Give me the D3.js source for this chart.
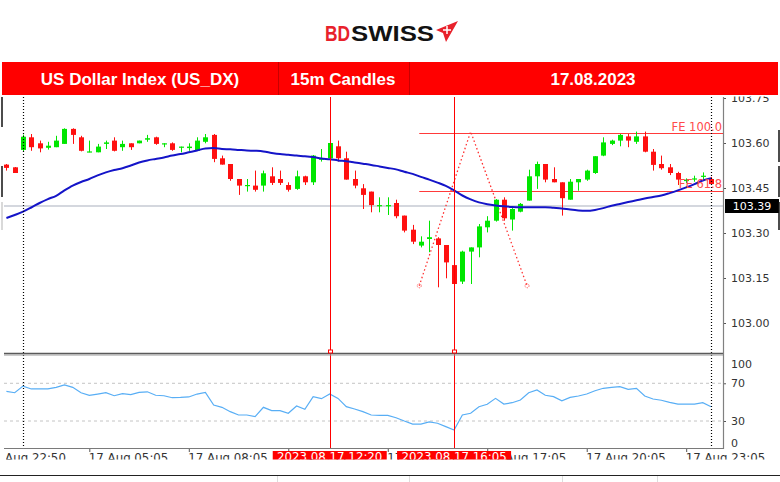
<!DOCTYPE html>
<html><head><meta charset="utf-8">
<script src="https://cdn.jsdelivr.net/npm/d3@7"></script>
<style>
body{margin:0;background:#fff;}
svg{display:block;font-family:"DejaVu Sans",sans-serif;}
</style>
</head><body>
<svg id="c" width="780" height="482"></svg>
<script>
// ---------- DATA ----------
const startIndex = -2; // bar index of the first candle (bar 0 = 17 Aug 03:05)
const candleOpen = [103.528,103.519,103.577,103.619,103.599,103.584,103.586,103.597,103.647,103.619,103.569,103.569,103.597,103.608,103.586,103.599,103.599,103.611,103.619,103.596,103.599,103.584,103.583,103.574,103.604,103.627,103.549,103.530,103.480,103.456,103.458,103.458,103.489,103.480,103.460,103.447,103.489,103.469,103.544,103.549,103.589,103.549,103.480,103.449,103.438,103.389,103.389,103.400,103.358,103.311,103.258,103.280,103.282,103.260,103.193,103.138,103.238,103.252,103.319,103.341,103.411,103.345,103.371,103.408,103.489,103.530,103.480,103.469,103.411,103.469,103.478,103.500,103.558,103.597,103.608,103.622,103.604,103.622,103.571,103.530,103.519,103.500,103.473,103.478,103.487,103.480];
const candleHigh = [103.530,103.520,103.628,103.630,103.608,103.604,103.624,103.649,103.649,103.624,103.608,103.597,103.608,103.619,103.608,103.599,103.608,103.627,103.621,103.599,103.602,103.588,103.599,103.619,103.630,103.630,103.558,103.530,103.480,103.480,103.508,103.508,103.519,103.508,103.469,103.508,103.491,103.560,103.580,103.600,103.608,103.571,103.508,103.463,103.438,103.419,103.419,103.411,103.358,103.327,103.289,103.341,103.286,103.260,103.193,103.241,103.252,103.330,103.356,103.413,103.419,103.383,103.400,103.511,103.538,103.530,103.519,103.469,103.480,103.480,103.511,103.556,103.619,103.611,103.630,103.630,103.638,103.638,103.580,103.558,103.530,103.504,103.482,103.491,103.502,103.487];
const candleLow = [103.508,103.500,103.572,103.574,103.569,103.578,103.586,103.597,103.597,103.572,103.569,103.569,103.580,103.572,103.574,103.577,103.599,103.604,103.594,103.586,103.574,103.569,103.574,103.574,103.599,103.536,103.528,103.474,103.427,103.438,103.438,103.438,103.460,103.460,103.438,103.444,103.460,103.460,103.538,103.547,103.538,103.478,103.449,103.380,103.369,103.369,103.360,103.349,103.302,103.263,103.252,103.236,103.119,103.149,103.124,103.130,103.130,103.219,103.302,103.338,103.341,103.308,103.369,103.408,103.447,103.469,103.469,103.358,103.411,103.441,103.474,103.497,103.556,103.593,103.589,103.586,103.597,103.569,103.508,103.511,103.493,103.460,103.467,103.471,103.478,103.463];
const candleClose = [103.517,103.500,103.621,103.586,103.582,103.591,103.608,103.647,103.627,103.574,103.572,103.588,103.602,103.574,103.597,103.586,103.608,103.616,103.597,103.599,103.577,103.588,103.588,103.608,103.619,103.547,103.528,103.480,103.458,103.460,103.444,103.499,103.467,103.467,103.444,103.489,103.469,103.558,103.549,103.600,103.549,103.478,103.458,103.427,103.393,103.393,103.393,103.356,103.308,103.271,103.271,103.286,103.260,103.202,103.130,103.238,103.252,103.322,103.341,103.411,103.349,103.380,103.397,103.489,103.530,103.478,103.469,103.416,103.471,103.480,103.508,103.556,103.602,103.608,103.627,103.608,103.622,103.571,103.527,103.516,103.500,103.478,103.478,103.482,103.491,103.463];
const maValues = [103.350,103.360,103.371,103.385,103.400,103.413,103.424,103.442,103.458,103.470,103.480,103.492,103.502,103.510,103.516,103.525,103.535,103.542,103.547,103.552,103.558,103.563,103.569,103.575,103.582,103.583,103.580,103.579,103.577,103.575,103.574,103.572,103.567,103.563,103.561,103.558,103.556,103.553,103.548,103.546,103.542,103.539,103.535,103.531,103.527,103.522,103.517,103.512,103.504,103.497,103.487,103.478,103.468,103.457,103.442,103.425,103.412,103.402,103.396,103.392,103.389,103.387,103.386,103.386,103.386,103.386,103.384,103.382,103.378,103.375,103.374,103.377,103.383,103.391,103.397,103.403,103.409,103.415,103.420,103.425,103.433,103.442,103.452,103.463,103.475,103.483];
const rsiValues = [61.5,60,67,64,64,64,65.7,68.2,65.7,60,57.3,58.6,60,56.8,59,57.9,60.4,61,57.3,56.8,54.7,55,55.5,58.6,60.4,47,44.5,39.9,36.4,36.4,34.6,44.5,41,41,38.2,45.9,42.4,55.8,53.7,58.6,54,45.2,42.7,39.9,36.4,36,36,33.5,30,26.8,26.8,29,27.6,24,20.5,36.4,38.2,45.2,47.7,54,48,49.4,52.3,60,62.9,57.3,55.8,51.5,55.1,56.5,58.6,62.1,64.7,65.7,66.4,63.6,64.7,56.5,53.3,52,49.8,48,48,48,49.4,45.2];

const priceTicks = [103.00,103.15,103.30,103.45,103.60,103.75];
const rsiTicks = [0,30,70,100];
const rsiLevels = [30,70];
const timeTickIndex = [-4,8,20,32,44,56,68,80];
const timeTickLabels = ["16 Aug 22:50","17 Aug 05:05","17 Aug 08:05","17 Aug 11:05","17 Aug 14:05","17 Aug 17:05","17 Aug 20:05","17 Aug 23:05"];
const markerIndex = [37,52];
const markerLabels = ["2023.08.17 12:20","2023.08.17 16:05"];
const separatorIndex = [0,83];
const currentPrice = 103.39;
const feLabels = ["FE 100.0","FE 61.8"];
const feLevels = [103.633,103.441];
const fePointIndex = [47.8,54.0,60.8];
const fePointPrice = [103.124,103.638,103.124];
const titleTexts = ["US Dollar Index (US_DX)","15m Candles","17.08.2023"];

// ---------- LAYOUT ----------
const svg = d3.select("#c");
const plotL = 4, plotR = 723, mainTop = 97, mainBot = 353, rsiTop = 355, rsiBot = 448;
const x = d3.scaleLinear().domain([0,80]).range([23,686.2]);
const y = d3.scaleLinear().domain([103.00,103.75]).range([323,98]);
const yR = d3.scaleLinear().domain([0,100]).range([449.3,355]);
const RED = "#ff0000", GREEN = "#00e600", CRED = "#ff1010";

const defs = svg.append("defs");
defs.append("clipPath").attr("id","mainClip").append("rect").attr("x",plotL).attr("y",mainTop).attr("width",plotR-plotL).attr("height",mainBot-mainTop);
defs.append("clipPath").attr("id","rsiClip").append("rect").attr("x",plotL).attr("y",rsiTop).attr("width",plotR-plotL).attr("height",rsiBot-rsiTop);
defs.append("clipPath").attr("id","botClip").append("rect").attr("x",6).attr("y",449).attr("width",774).attr("height",10.5);
defs.append("clipPath").attr("id","rightClip").append("rect").attr("x",724).attr("y",96.5).attr("width",56).attr("height",360);

svg.append("rect").attr("width",780).attr("height",482).attr("fill","#fff");

const candles = candleOpen.map((o,k)=>({i:startIndex+k,o,h:candleHigh[k],l:candleLow[k],c:candleClose[k],ma:maValues[k],rsi:rsiValues[k]}));

// ---------- MAIN PANEL ----------
const main = svg.append("g").attr("clip-path","url(#mainClip)");
main.append("line").attr("x1",plotL).attr("x2",plotR).attr("y1",y(currentPrice)).attr("y2",y(currentPrice))
  .attr("stroke","#a9b0bd").attr("stroke-width",1.2);
feLevels.forEach(v=>{
  main.append("line").attr("x1",x(fePointIndex[0])).attr("x2",plotR).attr("y1",Math.round(y(v))+0.5).attr("y2",Math.round(y(v))+0.5)
    .attr("stroke","#ff3a3a").attr("stroke-width",1);
});
const fePts = fePointIndex.map((d,k)=>[x(d),y(fePointPrice[k])]);
main.append("path").attr("d",d3.line()(fePts)).attr("fill","none").attr("stroke","#ff3030")
  .attr("stroke-width",1.3).attr("stroke-dasharray","1.5,2.5");
main.selectAll(".fep").data([fePts[0],fePts[2]]).join("circle").attr("cx",d=>d[0]).attr("cy",d=>d[1]).attr("r",2)
  .attr("fill","none").attr("stroke","#ff5050").attr("stroke-width",1).attr("stroke-dasharray","1,1");

// wicks & bodies
const cg = main.append("g");
cg.selectAll(".wick").data(candles).join("line")
  .attr("x1",d=>Math.round(x(d.i))+0.5).attr("x2",d=>Math.round(x(d.i))+0.5)
  .attr("y1",d=>y(d.h)).attr("y2",d=>y(d.l))
  .attr("stroke",d=>d.c>=d.o?GREEN:CRED).attr("stroke-width",1);
cg.selectAll(".body").data(candles).join("rect")
  .attr("x",d=>Math.round(x(d.i))-2).attr("width",5)
  .attr("y",d=>Math.min(y(d.o),y(d.c)))
  .attr("height",d=>Math.max(1.2,Math.abs(y(d.o)-y(d.c))))
  .attr("fill",d=>d.c>=d.o?GREEN:CRED);
main.append("path").datum(candles).attr("fill","none").attr("stroke","#1414c8").attr("stroke-width",2)
  .attr("d",d3.line().x(d=>x(d.i)).y(d=>y(d.ma)).curve(d3.curveMonotoneX));

// FE labels
feLevels.forEach((v,k)=>{
  svg.append("text").attr("x",722).attr("y",y(v)-2.5).attr("text-anchor","end").attr("font-size",11.5)
    .attr("fill","#ff4a4a").text(feLabels[k]);
});

// ---------- RSI PANEL ----------
const rsi = svg.append("g").attr("clip-path","url(#rsiClip)");
rsiLevels.forEach(v=>{
  rsi.append("line").attr("x1",plotL).attr("x2",plotR).attr("y1",yR(v)).attr("y2",yR(v))
    .attr("stroke","#c4c4c4").attr("stroke-width",1).attr("stroke-dasharray","3,3");
});
rsi.append("path").datum(candles).attr("fill","none").attr("stroke","#58aef5").attr("stroke-width",1.2)
  .attr("d",d3.line().x(d=>x(d.i)).y(d=>yR(d.rsi)));

// vertical marker lines
markerIndex.forEach(i=>{
  const xx = Math.round(x(i))+0.5;
  svg.append("line").attr("x1",xx).attr("x2",xx).attr("y1",mainTop).attr("y2",rsiBot).attr("stroke",RED).attr("stroke-width",1);
});
separatorIndex.forEach(i=>{
  const xx = Math.round(x(i))+0.5;
  svg.append("line").attr("x1",xx).attr("x2",xx).attr("y1",mainTop).attr("y2",rsiBot).attr("stroke","#000")
    .attr("stroke-width",1.2).attr("stroke-dasharray","1,2");
});

// panel separator
svg.append("line").attr("x1",plotL).attr("x2",plotR).attr("y1",353.5).attr("y2",353.5).attr("stroke","#5a5a5a").attr("stroke-width",1.5);
svg.append("line").attr("x1",plotL).attr("x2",plotR).attr("y1",355).attr("y2",355).attr("stroke","#9a9a9a").attr("stroke-width",1);
markerIndex.forEach(i=>{
  svg.append("rect").attr("x",Math.round(x(i))-1.5).attr("y",350).attr("width",4).attr("height",3)
    .attr("fill","#fff").attr("stroke",RED).attr("stroke-width",1);
});

// ---------- AXES ----------
const axisColor = "#333";
const pAxisWrap = svg.append("g").attr("clip-path","url(#rightClip)");
const pAxis = pAxisWrap.append("g").attr("transform",`translate(${plotR},0)`)
  .call(d3.axisRight(y).tickValues(priceTicks).tickFormat(d3.format(".2f")).tickSize(3).tickPadding(5));
pAxis.select(".domain").remove();
pAxis.selectAll("text").attr("font-family","DejaVu Sans").attr("font-size",11).attr("fill",axisColor);
pAxis.selectAll("line").attr("stroke","#555");

const rAxis = svg.append("g").attr("transform",`translate(${plotR},0)`)
  .call(d3.axisRight(yR).tickValues(rsiTicks).tickSize(3).tickPadding(5));
rAxis.select(".domain").remove();
rAxis.selectAll("text").attr("font-family","DejaVu Sans").attr("font-size",11).attr("fill",axisColor);
rAxis.selectAll("line").attr("stroke","#555");
rAxis.selectAll(".tick").filter(d=>d===100||d===0).select("line").remove();
rAxis.selectAll(".tick").filter(d=>d===100).select("text").attr("dy","1.1em");
rAxis.selectAll(".tick").filter(d=>d===0).select("text").attr("dy","-0.3em");

svg.append("line").attr("x1",plotR+0.5).attr("x2",plotR+0.5).attr("y1",mainTop).attr("y2",rsiBot+1).attr("stroke","#808080").attr("stroke-width",1.2);

// current price box
svg.append("rect").attr("x",725).attr("y",y(currentPrice)-7).attr("width",54).attr("height",14).attr("fill","#000");
svg.append("text").attr("x",752).attr("y",y(currentPrice)+4).attr("text-anchor","middle").attr("font-size",11)
  .attr("fill","#fff").text(d3.format(".2f")(currentPrice));

// bottom time axis
svg.append("line").attr("x1",plotL).attr("x2",plotR+1).attr("y1",448.5).attr("y2",448.5).attr("stroke","#7a7a7a").attr("stroke-width",1.2);
const tWrap = svg.append("g").attr("clip-path","url(#botClip)");
const tAxis = tWrap.append("g").attr("transform","translate(0,448)")
  .call(d3.axisBottom(x).tickValues(timeTickIndex).tickFormat((d,k)=>timeTickLabels[k]).tickSize(4).tickPadding(1));
tAxis.select(".domain").remove();
tAxis.selectAll("line").attr("stroke","#555");
tAxis.selectAll("text").attr("text-anchor","start").attr("dx",(d,k)=>k===0?"-4":"-1").attr("font-family","DejaVu Sans")
  .attr("font-size",11.8).attr("fill",axisColor).attr("dy","0.74em");
markerIndex.forEach((i,k)=>{
  const cx = x(i);
  tWrap.append("rect").attr("x",cx-57).attr("y",451).attr("width",114).attr("height",12).attr("fill",RED);
  tWrap.append("text").attr("x",cx).attr("y",461).attr("text-anchor","middle").attr("font-size",11.8)
    .attr("fill","#fff").text(markerLabels[k]);
});

// ---------- HEADER ----------
svg.append("rect").attr("x",2).attr("y",62).attr("width",776).attr("height",33).attr("fill","#ff0000");
[278,409].forEach(xx=>svg.append("line").attr("x1",xx+0.5).attr("x2",xx+0.5).attr("y1",62).attr("y2",95).attr("stroke","#c80000"));
const titleX = [140,343,593];
titleTexts.forEach((t,k)=>{
  svg.append("text").attr("x",titleX[k]).attr("y",85).attr("text-anchor","middle")
    .attr("font-family","Liberation Sans, Arial, sans-serif").attr("font-weight","bold").attr("font-size",17)
    .attr("fill","#fff").text(t);
});

// logo
const logo = svg.append("g").attr("font-family","Liberation Sans, Arial, sans-serif").attr("font-weight","bold");
logo.append("text").attr("x",325).attr("y",41).attr("font-size",22).attr("fill","#e8212b")
  .attr("textLength",25).attr("lengthAdjust","spacingAndGlyphs").text("BD");
logo.append("text").attr("x",351).attr("y",41).attr("font-size",22).attr("fill","#121212")
  .attr("textLength",83).attr("lengthAdjust","spacingAndGlyphs").text("SWISS");
logo.append("path").attr("d","M436,30 L458,21 L446,42 L443,33 Z").attr("fill","#e8212b");
logo.append("path").attr("d","M447,26 v8 M443,30 h8").attr("stroke","#fff").attr("stroke-width",1.5);

// ---------- FRAME DECORATION ----------
[[97,127,"#111"],[166,197,"#111"],[202,230,"#ccc"]].forEach(s=>svg.append("line").attr("x1",2).attr("x2",2).attr("y1",s[0]).attr("y2",s[1]).attr("stroke",s[2]).attr("stroke-width",1.5));
[[130,162,"#111"],[166,197,"#111"],[202,230,"#111"]].forEach(s=>svg.append("line").attr("x1",779).attr("x2",779).attr("y1",s[0]).attr("y2",s[1]).attr("stroke",s[2]).attr("stroke-width",1.5));
svg.append("line").attr("x1",0).attr("x2",780).attr("y1",475.5).attr("y2",475.5).attr("stroke","#222").attr("stroke-width",1);
[277,409,562,657].forEach(xx=>svg.append("line").attr("x1",xx+0.5).attr("x2",xx+0.5).attr("y1",476).attr("y2",482).attr("stroke","#ddd"));
</script>
</body></html>
